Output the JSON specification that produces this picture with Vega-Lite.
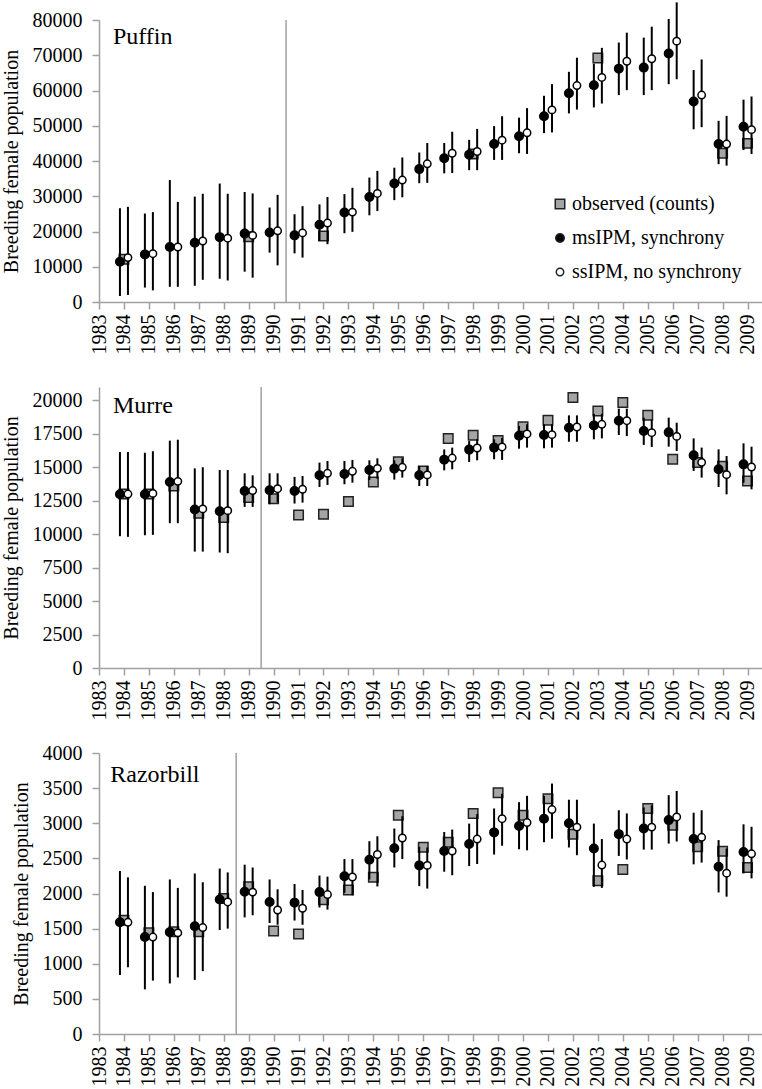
{
"$schema": "https://vega.github.io/schema/vega-lite/v6.json",
"padding": {"left": 1, "top": 1, "right": 0, "bottom": 0},
"background": "white",
"bounds": "flush",
"spacing": 85,
"config": {
  "view": {"stroke": null},
  "font": "Liberation Serif",
  "text": {"font": "Liberation Serif"},
  "axis": {"labelFont": "Liberation Serif", "labelFontSize": 20, "labelColor": "#000", "titleFont": "Liberation Serif", "titleFontSize": 20, "titleFontWeight": "normal", "titleColor": "#000", "domainColor": "#a0a0a0", "domainWidth": 1.5, "tickColor": "#a0a0a0", "tickWidth": 1.5, "tickSize": 7, "grid": false, "labelOverlap": false, "labelFlush": false},
  "legend": {"labelFont": "Liberation Serif", "labelFontSize": 20, "labelColor": "#000", "labelLimit": 400}
},
"datasets": {
"d": [
{"p":"P","yr":1984,"s":"ms","v":11400,"lo":1700,"hi":26600},
{"p":"P","yr":1985,"s":"ms","v":13500,"lo":4100,"hi":25100},
{"p":"P","yr":1986,"s":"ms","v":15600,"lo":4300,"hi":34600},
{"p":"P","yr":1987,"s":"ms","v":16800,"lo":4600,"hi":29900},
{"p":"P","yr":1988,"s":"ms","v":18400,"lo":6600,"hi":33600},
{"p":"P","yr":1989,"s":"ms","v":19400,"lo":8600,"hi":31200},
{"p":"P","yr":1990,"s":"ms","v":19700,"lo":14000,"hi":26800},
{"p":"P","yr":1991,"s":"ms","v":18900,"lo":13800,"hi":24900},
{"p":"P","yr":1992,"s":"ms","v":21900,"lo":17300,"hi":27700},
{"p":"P","yr":1993,"s":"ms","v":25400,"lo":19500,"hi":30600},
{"p":"P","yr":1994,"s":"ms","v":29800,"lo":24600,"hi":35300},
{"p":"P","yr":1995,"s":"ms","v":33600,"lo":28900,"hi":38100},
{"p":"P","yr":1996,"s":"ms","v":37700,"lo":33700,"hi":42400},
{"p":"P","yr":1997,"s":"ms","v":40800,"lo":36500,"hi":45100},
{"p":"P","yr":1998,"s":"ms","v":41800,"lo":37400,"hi":46000},
{"p":"P","yr":1999,"s":"ms","v":44800,"lo":40300,"hi":49900},
{"p":"P","yr":2000,"s":"ms","v":47000,"lo":42200,"hi":52300},
{"p":"P","yr":2001,"s":"ms","v":52700,"lo":47900,"hi":58500},
{"p":"P","yr":2002,"s":"ms","v":59200,"lo":53500,"hi":65300},
{"p":"P","yr":2003,"s":"ms","v":61500,"lo":55200,"hi":67600},
{"p":"P","yr":2004,"s":"ms","v":66200,"lo":58700,"hi":73600},
{"p":"P","yr":2005,"s":"ms","v":66500,"lo":58700,"hi":75000},
{"p":"P","yr":2006,"s":"ms","v":70500,"lo":61800,"hi":80300},
{"p":"P","yr":2007,"s":"ms","v":56900,"lo":49000,"hi":65800},
{"p":"P","yr":2008,"s":"ms","v":44800,"lo":39100,"hi":51400},
{"p":"P","yr":2009,"s":"ms","v":49700,"lo":43100,"hi":57400},
{"p":"P","yr":1984,"s":"ss","v":12600,"lo":2000,"hi":27000},
{"p":"P","yr":1985,"s":"ss","v":13700,"lo":3300,"hi":25500},
{"p":"P","yr":1986,"s":"ss","v":15600,"lo":4300,"hi":28400},
{"p":"P","yr":1987,"s":"ss","v":17300,"lo":6300,"hi":30700},
{"p":"P","yr":1988,"s":"ss","v":18100,"lo":6100,"hi":30700},
{"p":"P","yr":1989,"s":"ss","v":18900,"lo":6900,"hi":30800},
{"p":"P","yr":1990,"s":"ss","v":20200,"lo":10400,"hi":30400},
{"p":"P","yr":1991,"s":"ss","v":19600,"lo":12600,"hi":27200},
{"p":"P","yr":1992,"s":"ss","v":22400,"lo":16400,"hi":29800},
{"p":"P","yr":1993,"s":"ss","v":25500,"lo":19900,"hi":32400},
{"p":"P","yr":1994,"s":"ss","v":30800,"lo":25800,"hi":37200},
{"p":"P","yr":1995,"s":"ss","v":34600,"lo":29700,"hi":41000},
{"p":"P","yr":1996,"s":"ss","v":39200,"lo":33800,"hi":45100},
{"p":"P","yr":1997,"s":"ss","v":42200,"lo":36600,"hi":48300},
{"p":"P","yr":1998,"s":"ss","v":42700,"lo":37400,"hi":49100},
{"p":"P","yr":1999,"s":"ss","v":45900,"lo":40300,"hi":52700},
{"p":"P","yr":2000,"s":"ss","v":48000,"lo":42000,"hi":55000},
{"p":"P","yr":2001,"s":"ss","v":54500,"lo":48100,"hi":61800},
{"p":"P","yr":2002,"s":"ss","v":61400,"lo":54600,"hi":69300},
{"p":"P","yr":2003,"s":"ss","v":63700,"lo":56300,"hi":72100},
{"p":"P","yr":2004,"s":"ss","v":68300,"lo":60100,"hi":76400},
{"p":"P","yr":2005,"s":"ss","v":69000,"lo":60100,"hi":78100},
{"p":"P","yr":2006,"s":"ss","v":74000,"lo":63200,"hi":85000},
{"p":"P","yr":2007,"s":"ss","v":58700,"lo":49600,"hi":68800},
{"p":"P","yr":2008,"s":"ss","v":44800,"lo":38700,"hi":52800},
{"p":"P","yr":2009,"s":"ss","v":48900,"lo":42000,"hi":58300},
{"p":"P","yr":1984,"s":"obs","v":12100},
{"p":"P","yr":1989,"s":"obs","v":18500},
{"p":"P","yr":1992,"s":"obs","v":18700},
{"p":"P","yr":1998,"s":"obs","v":42000},
{"p":"P","yr":2003,"s":"obs","v":69200},
{"p":"P","yr":2008,"s":"obs","v":42200},
{"p":"P","yr":2009,"s":"obs","v":45000},
{"p":"M","yr":1984,"s":"ms","v":12980,"lo":9850,"hi":16140},
{"p":"M","yr":1985,"s":"ms","v":12980,"lo":9920,"hi":16090},
{"p":"M","yr":1986,"s":"ms","v":13900,"lo":10820,"hi":16990},
{"p":"M","yr":1987,"s":"ms","v":11840,"lo":8700,"hi":14920},
{"p":"M","yr":1988,"s":"ms","v":11710,"lo":8630,"hi":14800},
{"p":"M","yr":1989,"s":"ms","v":13230,"lo":12040,"hi":14550},
{"p":"M","yr":1990,"s":"ms","v":13280,"lo":12240,"hi":14550},
{"p":"M","yr":1991,"s":"ms","v":13230,"lo":12290,"hi":14280},
{"p":"M","yr":1992,"s":"ms","v":14400,"lo":13530,"hi":15350},
{"p":"M","yr":1993,"s":"ms","v":14500,"lo":13730,"hi":15470},
{"p":"M","yr":1994,"s":"ms","v":14800,"lo":14050,"hi":15520},
{"p":"M","yr":1995,"s":"ms","v":14900,"lo":14080,"hi":15520},
{"p":"M","yr":1996,"s":"ms","v":14400,"lo":13600,"hi":15100},
{"p":"M","yr":1997,"s":"ms","v":15570,"lo":14770,"hi":16340},
{"p":"M","yr":1998,"s":"ms","v":16320,"lo":15400,"hi":16960},
{"p":"M","yr":1999,"s":"ms","v":16470,"lo":15600,"hi":17090},
{"p":"M","yr":2000,"s":"ms","v":17360,"lo":16390,"hi":18080},
{"p":"M","yr":2001,"s":"ms","v":17410,"lo":16420,"hi":18210},
{"p":"M","yr":2002,"s":"ms","v":17960,"lo":16910,"hi":18880},
{"p":"M","yr":2003,"s":"ms","v":18130,"lo":17090,"hi":19000},
{"p":"M","yr":2004,"s":"ms","v":18480,"lo":17410,"hi":19380},
{"p":"M","yr":2005,"s":"ms","v":17710,"lo":16670,"hi":18710},
{"p":"M","yr":2006,"s":"ms","v":17610,"lo":16540,"hi":18710},
{"p":"M","yr":2007,"s":"ms","v":15890,"lo":14730,"hi":17160},
{"p":"M","yr":2008,"s":"ms","v":14850,"lo":13530,"hi":16340},
{"p":"M","yr":2009,"s":"ms","v":15220,"lo":13850,"hi":16790},
{"p":"M","yr":1984,"s":"ss","v":13000,"lo":9800,"hi":16140},
{"p":"M","yr":1985,"s":"ss","v":13050,"lo":9950,"hi":16200},
{"p":"M","yr":1986,"s":"ss","v":13950,"lo":10820,"hi":17060},
{"p":"M","yr":1987,"s":"ss","v":11890,"lo":8700,"hi":15000},
{"p":"M","yr":1988,"s":"ss","v":11760,"lo":8580,"hi":14800},
{"p":"M","yr":1989,"s":"ss","v":13260,"lo":12040,"hi":14400},
{"p":"M","yr":1990,"s":"ss","v":13400,"lo":12360,"hi":14550},
{"p":"M","yr":1991,"s":"ss","v":13360,"lo":12360,"hi":14350},
{"p":"M","yr":1992,"s":"ss","v":14550,"lo":13680,"hi":15470},
{"p":"M","yr":1993,"s":"ss","v":14700,"lo":13850,"hi":15550},
{"p":"M","yr":1994,"s":"ss","v":14920,"lo":14150,"hi":15670},
{"p":"M","yr":1995,"s":"ss","v":15000,"lo":14230,"hi":15670},
{"p":"M","yr":1996,"s":"ss","v":14430,"lo":13600,"hi":15100},
{"p":"M","yr":1997,"s":"ss","v":15690,"lo":14850,"hi":16470},
{"p":"M","yr":1998,"s":"ss","v":16440,"lo":15520,"hi":17090},
{"p":"M","yr":1999,"s":"ss","v":16520,"lo":15550,"hi":17200},
{"p":"M","yr":2000,"s":"ss","v":17490,"lo":16470,"hi":18210},
{"p":"M","yr":2001,"s":"ss","v":17440,"lo":16470,"hi":18210},
{"p":"M","yr":2002,"s":"ss","v":18010,"lo":16910,"hi":18880},
{"p":"M","yr":2003,"s":"ss","v":18210,"lo":17160,"hi":19000},
{"p":"M","yr":2004,"s":"ss","v":18480,"lo":17330,"hi":19380},
{"p":"M","yr":2005,"s":"ss","v":17590,"lo":16520,"hi":18580},
{"p":"M","yr":2006,"s":"ss","v":17310,"lo":16220,"hi":18330},
{"p":"M","yr":2007,"s":"ss","v":15370,"lo":14230,"hi":16470},
{"p":"M","yr":2008,"s":"ss","v":14450,"lo":12980,"hi":15840},
{"p":"M","yr":2009,"s":"ss","v":15020,"lo":13350,"hi":16540},
{"p":"M","yr":1984,"s":"obs","v":13000},
{"p":"M","yr":1985,"s":"obs","v":13000},
{"p":"M","yr":1986,"s":"obs","v":13600},
{"p":"M","yr":1987,"s":"obs","v":11560},
{"p":"M","yr":1988,"s":"obs","v":11240},
{"p":"M","yr":1989,"s":"obs","v":12740},
{"p":"M","yr":1990,"s":"obs","v":12640},
{"p":"M","yr":1991,"s":"obs","v":11440},
{"p":"M","yr":1992,"s":"obs","v":11490},
{"p":"M","yr":1993,"s":"obs","v":12440},
{"p":"M","yr":1994,"s":"obs","v":13900},
{"p":"M","yr":1995,"s":"obs","v":15420},
{"p":"M","yr":1996,"s":"obs","v":14730},
{"p":"M","yr":1997,"s":"obs","v":17160},
{"p":"M","yr":1998,"s":"obs","v":17390},
{"p":"M","yr":1999,"s":"obs","v":17010},
{"p":"M","yr":2000,"s":"obs","v":18030},
{"p":"M","yr":2001,"s":"obs","v":18510},
{"p":"M","yr":2002,"s":"obs","v":20220},
{"p":"M","yr":2003,"s":"obs","v":19200},
{"p":"M","yr":2004,"s":"obs","v":19850},
{"p":"M","yr":2005,"s":"obs","v":18880},
{"p":"M","yr":2006,"s":"obs","v":15600},
{"p":"M","yr":2007,"s":"obs","v":15350},
{"p":"M","yr":2008,"s":"obs","v":15070},
{"p":"M","yr":2009,"s":"obs","v":13980},
{"p":"R","yr":1984,"s":"ms","v":1590,"lo":840,"hi":2320},
{"p":"R","yr":1985,"s":"ms","v":1380,"lo":635,"hi":2110},
{"p":"R","yr":1986,"s":"ms","v":1450,"lo":720,"hi":2200},
{"p":"R","yr":1987,"s":"ms","v":1535,"lo":770,"hi":2285},
{"p":"R","yr":1988,"s":"ms","v":1915,"lo":1480,"hi":2355},
{"p":"R","yr":1989,"s":"ms","v":2025,"lo":1660,"hi":2410},
{"p":"R","yr":1990,"s":"ms","v":1880,"lo":1580,"hi":2200},
{"p":"R","yr":1991,"s":"ms","v":1870,"lo":1615,"hi":2135},
{"p":"R","yr":1992,"s":"ms","v":2020,"lo":1800,"hi":2255},
{"p":"R","yr":1993,"s":"ms","v":2245,"lo":2010,"hi":2490},
{"p":"R","yr":1994,"s":"ms","v":2480,"lo":2200,"hi":2745},
{"p":"R","yr":1995,"s":"ms","v":2645,"lo":2370,"hi":2925},
{"p":"R","yr":1996,"s":"ms","v":2400,"lo":2105,"hi":2665},
{"p":"R","yr":1997,"s":"ms","v":2605,"lo":2310,"hi":2875},
{"p":"R","yr":1998,"s":"ms","v":2705,"lo":2390,"hi":2995},
{"p":"R","yr":1999,"s":"ms","v":2870,"lo":2555,"hi":3210},
{"p":"R","yr":2000,"s":"ms","v":2960,"lo":2630,"hi":3300},
{"p":"R","yr":2001,"s":"ms","v":3065,"lo":2730,"hi":3390},
{"p":"R","yr":2002,"s":"ms","v":3000,"lo":2655,"hi":3335},
{"p":"R","yr":2003,"s":"ms","v":2640,"lo":2095,"hi":2995},
{"p":"R","yr":2004,"s":"ms","v":2845,"lo":2535,"hi":3185},
{"p":"R","yr":2005,"s":"ms","v":2925,"lo":2625,"hi":3225},
{"p":"R","yr":2006,"s":"ms","v":3045,"lo":2710,"hi":3400},
{"p":"R","yr":2007,"s":"ms","v":2775,"lo":2415,"hi":3150},
{"p":"R","yr":2008,"s":"ms","v":2380,"lo":2015,"hi":2760},
{"p":"R","yr":2009,"s":"ms","v":2590,"lo":2285,"hi":2985},
{"p":"R","yr":1984,"s":"ss","v":1590,"lo":950,"hi":2230},
{"p":"R","yr":1985,"s":"ss","v":1380,"lo":760,"hi":2020},
{"p":"R","yr":1986,"s":"ss","v":1440,"lo":805,"hi":2080},
{"p":"R","yr":1987,"s":"ss","v":1515,"lo":895,"hi":2160},
{"p":"R","yr":1988,"s":"ss","v":1880,"lo":1500,"hi":2300},
{"p":"R","yr":1989,"s":"ss","v":2020,"lo":1690,"hi":2370},
{"p":"R","yr":1990,"s":"ss","v":1765,"lo":1555,"hi":2060},
{"p":"R","yr":1991,"s":"ss","v":1790,"lo":1555,"hi":2050},
{"p":"R","yr":1992,"s":"ss","v":1985,"lo":1770,"hi":2240},
{"p":"R","yr":1993,"s":"ss","v":2235,"lo":1975,"hi":2490},
{"p":"R","yr":1994,"s":"ss","v":2555,"lo":2100,"hi":2815},
{"p":"R","yr":1995,"s":"ss","v":2790,"lo":2490,"hi":3100},
{"p":"R","yr":1996,"s":"ss","v":2400,"lo":2070,"hi":2655},
{"p":"R","yr":1997,"s":"ss","v":2605,"lo":2260,"hi":2910},
{"p":"R","yr":1998,"s":"ss","v":2775,"lo":2420,"hi":3130},
{"p":"R","yr":1999,"s":"ss","v":3065,"lo":2680,"hi":3420},
{"p":"R","yr":2000,"s":"ss","v":3010,"lo":2615,"hi":3390},
{"p":"R","yr":2001,"s":"ss","v":3195,"lo":2780,"hi":3565},
{"p":"R","yr":2002,"s":"ss","v":2945,"lo":2545,"hi":3335},
{"p":"R","yr":2003,"s":"ss","v":2405,"lo":2080,"hi":2775},
{"p":"R","yr":2004,"s":"ss","v":2775,"lo":2485,"hi":3140},
{"p":"R","yr":2005,"s":"ss","v":2945,"lo":2625,"hi":3255},
{"p":"R","yr":2006,"s":"ss","v":3090,"lo":2740,"hi":3460},
{"p":"R","yr":2007,"s":"ss","v":2800,"lo":2440,"hi":3185},
{"p":"R","yr":2008,"s":"ss","v":2290,"lo":1955,"hi":2640},
{"p":"R","yr":2009,"s":"ss","v":2565,"lo":2215,"hi":2950},
{"p":"R","yr":1984,"s":"obs","v":1620},
{"p":"R","yr":1985,"s":"obs","v":1440},
{"p":"R","yr":1986,"s":"obs","v":1455},
{"p":"R","yr":1987,"s":"obs","v":1455},
{"p":"R","yr":1988,"s":"obs","v":1930},
{"p":"R","yr":1989,"s":"obs","v":2095},
{"p":"R","yr":1990,"s":"obs","v":1465},
{"p":"R","yr":1991,"s":"obs","v":1425},
{"p":"R","yr":1992,"s":"obs","v":1910},
{"p":"R","yr":1993,"s":"obs","v":2050},
{"p":"R","yr":1994,"s":"obs","v":2230},
{"p":"R","yr":1995,"s":"obs","v":3115},
{"p":"R","yr":1996,"s":"obs","v":2660},
{"p":"R","yr":1997,"s":"obs","v":2730},
{"p":"R","yr":1998,"s":"obs","v":3140},
{"p":"R","yr":1999,"s":"obs","v":3435},
{"p":"R","yr":2000,"s":"obs","v":3115},
{"p":"R","yr":2001,"s":"obs","v":3350},
{"p":"R","yr":2002,"s":"obs","v":2845},
{"p":"R","yr":2003,"s":"obs","v":2180},
{"p":"R","yr":2004,"s":"obs","v":2340},
{"p":"R","yr":2005,"s":"obs","v":3210},
{"p":"R","yr":2006,"s":"obs","v":2970},
{"p":"R","yr":2007,"s":"obs","v":2665},
{"p":"R","yr":2008,"s":"obs","v":2600},
{"p":"R","yr":2009,"s":"obs","v":2370}
]
},
"resolve": {
  "scale": {"x": "independent", "y": "independent", "shape": "independent", "fill": "independent", "size": "independent"},
  "legend": {"shape": "independent", "fill": "independent", "size": "independent"}
},
"vconcat": [
{
  "width": 663, "height": 282,
  "data": {"name": "d"},
  "layer": [
    {"transform": [{"filter": "datum.p == 'P' && datum.s == 'obs'"}], "mark": {"type": "point", "filled": true, "stroke": "#222", "strokeWidth": 1.5, "opacity": 1},
     "encoding": {
       "x": {"field": "yr", "type": "quantitative", "scale": {"domain": [1983, 2009.58], "nice": false, "zero": false},
             "axis": {"values": [1983,1984,1985,1986,1987,1988,1989,1990,1991,1992,1993,1994,1995,1996,1997,1998,1999,2000,2001,2002,2003,2004,2005,2006,2007,2008,2009], "format": "d", "labelAngle": 270, "title": null, "labelFont": "Liberation Serif", "labelFontSize": 20, "labelColor": "#000", "labelOverlap": false, "labelFlush": false, "labelPadding": 5, "tickSize": 7, "tickColor": "#a0a0a0", "tickWidth": 1.5, "domainColor": "#a0a0a0", "domainWidth": 1.5, "grid": false}},
       "y": {"field": "v", "type": "quantitative", "scale": {"domain": [0, 80000], "nice": false},
             "axis": {"values": [0,10000,20000,30000,40000,50000,60000,70000,80000], "format": "d", "title": "Breeding female population", "titleFont": "Liberation Serif", "titleFontSize": 20, "titleFontWeight": "normal", "titleColor": "#000", "titlePadding": 11, "labelFont": "Liberation Serif", "labelFontSize": 20, "labelColor": "#000", "labelOverlap": false, "labelPadding": 10, "tickSize": 7, "tickColor": "#a0a0a0", "tickWidth": 1.5, "domainColor": "#a0a0a0", "domainWidth": 1.5, "grid": false}},
       "shape": {"field": "s", "type": "nominal", "scale": {"domain": ["obs","ms","ss"], "range": ["square","circle","circle"]}, "legend": {"orient": "none", "legendX": 451, "legendY": 174, "title": null, "padding": 0, "rowPadding": 14, "labelOffset": 2, "labelLimit": 400, "labelFont": "Liberation Serif", "labelFontSize": 20, "labelColor": "#000", "labelExpr": "datum.label == 'obs' ? 'observed (counts)' : datum.label == 'ms' ? 'msIPM, synchrony' : 'ssIPM, no synchrony'", "encode": {"symbols": {"update": {"stroke": {"value": "#000"}, "strokeWidth": {"value": 1.2}}}}}},
       "fill": {"field": "s", "type": "nominal", "scale": {"domain": ["obs","ms","ss"], "range": ["#a5a5a5","#000000","#ffffff"]}, "legend": {"orient": "none", "legendX": 451, "legendY": 174, "title": null, "padding": 0, "rowPadding": 14, "labelOffset": 2, "labelLimit": 400, "labelFont": "Liberation Serif", "labelFontSize": 20, "labelColor": "#000", "labelExpr": "datum.label == 'obs' ? 'observed (counts)' : datum.label == 'ms' ? 'msIPM, synchrony' : 'ssIPM, no synchrony'", "encode": {"symbols": {"update": {"stroke": {"value": "#000"}, "strokeWidth": {"value": 1.2}}}}}},
       "size": {"field": "s", "type": "nominal", "scale": {"domain": ["obs","ms","ss"], "range": [90, 55, 55]}, "legend": {"orient": "none", "legendX": 451, "legendY": 174, "title": null, "padding": 0, "rowPadding": 14, "labelOffset": 2, "labelLimit": 400, "labelFont": "Liberation Serif", "labelFontSize": 20, "labelColor": "#000", "labelExpr": "datum.label == 'obs' ? 'observed (counts)' : datum.label == 'ms' ? 'msIPM, synchrony' : 'ssIPM, no synchrony'", "encode": {"symbols": {"update": {"stroke": {"value": "#000"}, "strokeWidth": {"value": 1.2}}}}}}
     }},
    {"transform": [{"filter": "datum.p == 'P' && datum.s == 'obs' && datum.yr == 1984"}], "mark": {"type": "rule", "color": "#a0a0a0", "strokeWidth": 1.5},
     "encoding": {
       "x": {"datum": 1990.5, "type": "quantitative", "axis": {"values": [1983,1984,1985,1986,1987,1988,1989,1990,1991,1992,1993,1994,1995,1996,1997,1998,1999,2000,2001,2002,2003,2004,2005,2006,2007,2008,2009], "format": "d", "labelAngle": 270, "title": null, "labelFont": "Liberation Serif", "labelFontSize": 20, "labelColor": "#000", "labelOverlap": false, "labelFlush": false, "labelPadding": 5, "tickSize": 7, "tickColor": "#a0a0a0", "tickWidth": 1.5, "domainColor": "#a0a0a0", "domainWidth": 1.5, "grid": false}},
       "y": {"datum": 0, "type": "quantitative", "axis": {"values": [0,10000,20000,30000,40000,50000,60000,70000,80000], "format": "d", "title": "Breeding female population", "titleFont": "Liberation Serif", "titleFontSize": 20, "titleFontWeight": "normal", "titleColor": "#000", "titlePadding": 11, "labelFont": "Liberation Serif", "labelFontSize": 20, "labelColor": "#000", "labelOverlap": false, "labelPadding": 10, "tickSize": 7, "tickColor": "#a0a0a0", "tickWidth": 1.5, "domainColor": "#a0a0a0", "domainWidth": 1.5, "grid": false}},
       "y2": {"datum": 80000}}},
    {"transform": [{"filter": "datum.p == 'P' && datum.s == 'ms'"}], "mark": {"type": "rule", "color": "#000", "strokeWidth": 2, "xOffset": -4},
     "encoding": {
       "x": {"field": "yr", "type": "quantitative", "axis": {"values": [1983,1984,1985,1986,1987,1988,1989,1990,1991,1992,1993,1994,1995,1996,1997,1998,1999,2000,2001,2002,2003,2004,2005,2006,2007,2008,2009], "format": "d", "labelAngle": 270, "title": null, "labelFont": "Liberation Serif", "labelFontSize": 20, "labelColor": "#000", "labelOverlap": false, "labelFlush": false, "labelPadding": 5, "tickSize": 7, "tickColor": "#a0a0a0", "tickWidth": 1.5, "domainColor": "#a0a0a0", "domainWidth": 1.5, "grid": false}},
       "y": {"field": "lo", "type": "quantitative", "axis": {"values": [0,10000,20000,30000,40000,50000,60000,70000,80000], "format": "d", "title": "Breeding female population", "titleFont": "Liberation Serif", "titleFontSize": 20, "titleFontWeight": "normal", "titleColor": "#000", "titlePadding": 11, "labelFont": "Liberation Serif", "labelFontSize": 20, "labelColor": "#000", "labelOverlap": false, "labelPadding": 10, "tickSize": 7, "tickColor": "#a0a0a0", "tickWidth": 1.5, "domainColor": "#a0a0a0", "domainWidth": 1.5, "grid": false}},
       "y2": {"field": "hi"}}},
    {"transform": [{"filter": "datum.p == 'P' && datum.s == 'ms'"}], "mark": {"type": "point", "filled": true, "stroke": "#000", "strokeWidth": 1.5, "opacity": 1, "xOffset": -4},
     "encoding": {
       "x": {"field": "yr", "type": "quantitative", "axis": {"values": [1983,1984,1985,1986,1987,1988,1989,1990,1991,1992,1993,1994,1995,1996,1997,1998,1999,2000,2001,2002,2003,2004,2005,2006,2007,2008,2009], "format": "d", "labelAngle": 270, "title": null, "labelFont": "Liberation Serif", "labelFontSize": 20, "labelColor": "#000", "labelOverlap": false, "labelFlush": false, "labelPadding": 5, "tickSize": 7, "tickColor": "#a0a0a0", "tickWidth": 1.5, "domainColor": "#a0a0a0", "domainWidth": 1.5, "grid": false}},
       "y": {"field": "v", "type": "quantitative", "axis": {"values": [0,10000,20000,30000,40000,50000,60000,70000,80000], "format": "d", "title": "Breeding female population", "titleFont": "Liberation Serif", "titleFontSize": 20, "titleFontWeight": "normal", "titleColor": "#000", "titlePadding": 11, "labelFont": "Liberation Serif", "labelFontSize": 20, "labelColor": "#000", "labelOverlap": false, "labelPadding": 10, "tickSize": 7, "tickColor": "#a0a0a0", "tickWidth": 1.5, "domainColor": "#a0a0a0", "domainWidth": 1.5, "grid": false}},
       "shape": {"field": "s", "type": "nominal"}, "fill": {"field": "s", "type": "nominal"}, "size": {"field": "s", "type": "nominal"}}},
    {"transform": [{"filter": "datum.p == 'P' && datum.s == 'ss'"}], "mark": {"type": "rule", "color": "#000", "strokeWidth": 2, "xOffset": 4},
     "encoding": {
       "x": {"field": "yr", "type": "quantitative", "axis": {"values": [1983,1984,1985,1986,1987,1988,1989,1990,1991,1992,1993,1994,1995,1996,1997,1998,1999,2000,2001,2002,2003,2004,2005,2006,2007,2008,2009], "format": "d", "labelAngle": 270, "title": null, "labelFont": "Liberation Serif", "labelFontSize": 20, "labelColor": "#000", "labelOverlap": false, "labelFlush": false, "labelPadding": 5, "tickSize": 7, "tickColor": "#a0a0a0", "tickWidth": 1.5, "domainColor": "#a0a0a0", "domainWidth": 1.5, "grid": false}},
       "y": {"field": "lo", "type": "quantitative", "axis": {"values": [0,10000,20000,30000,40000,50000,60000,70000,80000], "format": "d", "title": "Breeding female population", "titleFont": "Liberation Serif", "titleFontSize": 20, "titleFontWeight": "normal", "titleColor": "#000", "titlePadding": 11, "labelFont": "Liberation Serif", "labelFontSize": 20, "labelColor": "#000", "labelOverlap": false, "labelPadding": 10, "tickSize": 7, "tickColor": "#a0a0a0", "tickWidth": 1.5, "domainColor": "#a0a0a0", "domainWidth": 1.5, "grid": false}},
       "y2": {"field": "hi"}}},
    {"transform": [{"filter": "datum.p == 'P' && datum.s == 'ss'"}], "mark": {"type": "point", "filled": true, "stroke": "#000", "strokeWidth": 1.5, "opacity": 1, "xOffset": 4},
     "encoding": {
       "x": {"field": "yr", "type": "quantitative", "axis": {"values": [1983,1984,1985,1986,1987,1988,1989,1990,1991,1992,1993,1994,1995,1996,1997,1998,1999,2000,2001,2002,2003,2004,2005,2006,2007,2008,2009], "format": "d", "labelAngle": 270, "title": null, "labelFont": "Liberation Serif", "labelFontSize": 20, "labelColor": "#000", "labelOverlap": false, "labelFlush": false, "labelPadding": 5, "tickSize": 7, "tickColor": "#a0a0a0", "tickWidth": 1.5, "domainColor": "#a0a0a0", "domainWidth": 1.5, "grid": false}},
       "y": {"field": "v", "type": "quantitative", "axis": {"values": [0,10000,20000,30000,40000,50000,60000,70000,80000], "format": "d", "title": "Breeding female population", "titleFont": "Liberation Serif", "titleFontSize": 20, "titleFontWeight": "normal", "titleColor": "#000", "titlePadding": 11, "labelFont": "Liberation Serif", "labelFontSize": 20, "labelColor": "#000", "labelOverlap": false, "labelPadding": 10, "tickSize": 7, "tickColor": "#a0a0a0", "tickWidth": 1.5, "domainColor": "#a0a0a0", "domainWidth": 1.5, "grid": false}},
       "shape": {"field": "s", "type": "nominal"}, "fill": {"field": "s", "type": "nominal"}, "size": {"field": "s", "type": "nominal"}}},
    {"transform": [{"filter": "datum.p == 'P' && datum.s == 'obs' && datum.yr == 1984"}], "mark": {"type": "text", "text": "Puffin", "font": "Liberation Serif", "fontSize": 24, "align": "left", "baseline": "alphabetic", "color": "#000"},
     "encoding": {
       "x": {"datum": 1983.56, "type": "quantitative", "axis": {"values": [1983,1984,1985,1986,1987,1988,1989,1990,1991,1992,1993,1994,1995,1996,1997,1998,1999,2000,2001,2002,2003,2004,2005,2006,2007,2008,2009], "format": "d", "labelAngle": 270, "title": null, "labelFont": "Liberation Serif", "labelFontSize": 20, "labelColor": "#000", "labelOverlap": false, "labelFlush": false, "labelPadding": 5, "tickSize": 7, "tickColor": "#a0a0a0", "tickWidth": 1.5, "domainColor": "#a0a0a0", "domainWidth": 1.5, "grid": false}},
       "y": {"datum": 73200, "type": "quantitative", "axis": {"values": [0,10000,20000,30000,40000,50000,60000,70000,80000], "format": "d", "title": "Breeding female population", "titleFont": "Liberation Serif", "titleFontSize": 20, "titleFontWeight": "normal", "titleColor": "#000", "titlePadding": 11, "labelFont": "Liberation Serif", "labelFontSize": 20, "labelColor": "#000", "labelOverlap": false, "labelPadding": 10, "tickSize": 7, "tickColor": "#a0a0a0", "tickWidth": 1.5, "domainColor": "#a0a0a0", "domainWidth": 1.5, "grid": false}}}}
  ]
},
{
  "width": 663, "height": 281,
  "data": {"name": "d"},
  "layer": [
    {"transform": [{"filter": "datum.p == 'M' && datum.s == 'obs'"}], "mark": {"type": "point", "filled": true, "stroke": "#222", "strokeWidth": 1.5, "opacity": 1},
     "encoding": {
       "x": {"field": "yr", "type": "quantitative", "scale": {"domain": [1983, 2009.58], "nice": false, "zero": false},
             "axis": {"values": [1983,1984,1985,1986,1987,1988,1989,1990,1991,1992,1993,1994,1995,1996,1997,1998,1999,2000,2001,2002,2003,2004,2005,2006,2007,2008,2009], "format": "d", "labelAngle": 270, "title": null, "labelFont": "Liberation Serif", "labelFontSize": 20, "labelColor": "#000", "labelOverlap": false, "labelFlush": false, "labelPadding": 5, "tickSize": 7, "tickColor": "#a0a0a0", "tickWidth": 1.5, "domainColor": "#a0a0a0", "domainWidth": 1.5, "grid": false}},
       "y": {"field": "v", "type": "quantitative", "scale": {"domain": [0, 21000], "nice": false},
             "axis": {"values": [0,2500,5000,7500,10000,12500,15000,17500,20000], "format": "d", "title": "Breeding female population", "titleFont": "Liberation Serif", "titleFontSize": 20, "titleFontWeight": "normal", "titleColor": "#000", "titlePadding": 11, "labelFont": "Liberation Serif", "labelFontSize": 20, "labelColor": "#000", "labelOverlap": false, "labelPadding": 10, "tickSize": 7, "tickColor": "#a0a0a0", "tickWidth": 1.5, "domainColor": "#a0a0a0", "domainWidth": 1.5, "grid": false}},
       "shape": {"field": "s", "type": "nominal", "scale": {"domain": ["obs","ms","ss"], "range": ["square","circle","circle"]}, "legend": null},
       "fill": {"field": "s", "type": "nominal", "scale": {"domain": ["obs","ms","ss"], "range": ["#a5a5a5","#000000","#ffffff"]}, "legend": null},
       "size": {"field": "s", "type": "nominal", "scale": {"domain": ["obs","ms","ss"], "range": [90, 55, 55]}, "legend": null}
     }},
    {"transform": [{"filter": "datum.p == 'M' && datum.s == 'obs' && datum.yr == 1984"}], "mark": {"type": "rule", "color": "#a0a0a0", "strokeWidth": 1.5},
     "encoding": {
       "x": {"datum": 1989.5, "type": "quantitative", "axis": {"values": [1983,1984,1985,1986,1987,1988,1989,1990,1991,1992,1993,1994,1995,1996,1997,1998,1999,2000,2001,2002,2003,2004,2005,2006,2007,2008,2009], "format": "d", "labelAngle": 270, "title": null, "labelFont": "Liberation Serif", "labelFontSize": 20, "labelColor": "#000", "labelOverlap": false, "labelFlush": false, "labelPadding": 5, "tickSize": 7, "tickColor": "#a0a0a0", "tickWidth": 1.5, "domainColor": "#a0a0a0", "domainWidth": 1.5, "grid": false}},
       "y": {"datum": 0, "type": "quantitative", "axis": {"values": [0,2500,5000,7500,10000,12500,15000,17500,20000], "format": "d", "title": "Breeding female population", "titleFont": "Liberation Serif", "titleFontSize": 20, "titleFontWeight": "normal", "titleColor": "#000", "titlePadding": 11, "labelFont": "Liberation Serif", "labelFontSize": 20, "labelColor": "#000", "labelOverlap": false, "labelPadding": 10, "tickSize": 7, "tickColor": "#a0a0a0", "tickWidth": 1.5, "domainColor": "#a0a0a0", "domainWidth": 1.5, "grid": false}},
       "y2": {"datum": 21000}}},
    {"transform": [{"filter": "datum.p == 'M' && datum.s == 'ms'"}], "mark": {"type": "rule", "color": "#000", "strokeWidth": 2, "xOffset": -4},
     "encoding": {
       "x": {"field": "yr", "type": "quantitative", "axis": {"values": [1983,1984,1985,1986,1987,1988,1989,1990,1991,1992,1993,1994,1995,1996,1997,1998,1999,2000,2001,2002,2003,2004,2005,2006,2007,2008,2009], "format": "d", "labelAngle": 270, "title": null, "labelFont": "Liberation Serif", "labelFontSize": 20, "labelColor": "#000", "labelOverlap": false, "labelFlush": false, "labelPadding": 5, "tickSize": 7, "tickColor": "#a0a0a0", "tickWidth": 1.5, "domainColor": "#a0a0a0", "domainWidth": 1.5, "grid": false}},
       "y": {"field": "lo", "type": "quantitative", "axis": {"values": [0,2500,5000,7500,10000,12500,15000,17500,20000], "format": "d", "title": "Breeding female population", "titleFont": "Liberation Serif", "titleFontSize": 20, "titleFontWeight": "normal", "titleColor": "#000", "titlePadding": 11, "labelFont": "Liberation Serif", "labelFontSize": 20, "labelColor": "#000", "labelOverlap": false, "labelPadding": 10, "tickSize": 7, "tickColor": "#a0a0a0", "tickWidth": 1.5, "domainColor": "#a0a0a0", "domainWidth": 1.5, "grid": false}},
       "y2": {"field": "hi"}}},
    {"transform": [{"filter": "datum.p == 'M' && datum.s == 'ms'"}], "mark": {"type": "point", "filled": true, "stroke": "#000", "strokeWidth": 1.5, "opacity": 1, "xOffset": -4},
     "encoding": {
       "x": {"field": "yr", "type": "quantitative", "axis": {"values": [1983,1984,1985,1986,1987,1988,1989,1990,1991,1992,1993,1994,1995,1996,1997,1998,1999,2000,2001,2002,2003,2004,2005,2006,2007,2008,2009], "format": "d", "labelAngle": 270, "title": null, "labelFont": "Liberation Serif", "labelFontSize": 20, "labelColor": "#000", "labelOverlap": false, "labelFlush": false, "labelPadding": 5, "tickSize": 7, "tickColor": "#a0a0a0", "tickWidth": 1.5, "domainColor": "#a0a0a0", "domainWidth": 1.5, "grid": false}},
       "y": {"field": "v", "type": "quantitative", "axis": {"values": [0,2500,5000,7500,10000,12500,15000,17500,20000], "format": "d", "title": "Breeding female population", "titleFont": "Liberation Serif", "titleFontSize": 20, "titleFontWeight": "normal", "titleColor": "#000", "titlePadding": 11, "labelFont": "Liberation Serif", "labelFontSize": 20, "labelColor": "#000", "labelOverlap": false, "labelPadding": 10, "tickSize": 7, "tickColor": "#a0a0a0", "tickWidth": 1.5, "domainColor": "#a0a0a0", "domainWidth": 1.5, "grid": false}},
       "shape": {"field": "s", "type": "nominal", "legend": null}, "fill": {"field": "s", "type": "nominal", "legend": null}, "size": {"field": "s", "type": "nominal", "legend": null}}},
    {"transform": [{"filter": "datum.p == 'M' && datum.s == 'ss'"}], "mark": {"type": "rule", "color": "#000", "strokeWidth": 2, "xOffset": 4},
     "encoding": {
       "x": {"field": "yr", "type": "quantitative", "axis": {"values": [1983,1984,1985,1986,1987,1988,1989,1990,1991,1992,1993,1994,1995,1996,1997,1998,1999,2000,2001,2002,2003,2004,2005,2006,2007,2008,2009], "format": "d", "labelAngle": 270, "title": null, "labelFont": "Liberation Serif", "labelFontSize": 20, "labelColor": "#000", "labelOverlap": false, "labelFlush": false, "labelPadding": 5, "tickSize": 7, "tickColor": "#a0a0a0", "tickWidth": 1.5, "domainColor": "#a0a0a0", "domainWidth": 1.5, "grid": false}},
       "y": {"field": "lo", "type": "quantitative", "axis": {"values": [0,2500,5000,7500,10000,12500,15000,17500,20000], "format": "d", "title": "Breeding female population", "titleFont": "Liberation Serif", "titleFontSize": 20, "titleFontWeight": "normal", "titleColor": "#000", "titlePadding": 11, "labelFont": "Liberation Serif", "labelFontSize": 20, "labelColor": "#000", "labelOverlap": false, "labelPadding": 10, "tickSize": 7, "tickColor": "#a0a0a0", "tickWidth": 1.5, "domainColor": "#a0a0a0", "domainWidth": 1.5, "grid": false}},
       "y2": {"field": "hi"}}},
    {"transform": [{"filter": "datum.p == 'M' && datum.s == 'ss'"}], "mark": {"type": "point", "filled": true, "stroke": "#000", "strokeWidth": 1.5, "opacity": 1, "xOffset": 4},
     "encoding": {
       "x": {"field": "yr", "type": "quantitative", "axis": {"values": [1983,1984,1985,1986,1987,1988,1989,1990,1991,1992,1993,1994,1995,1996,1997,1998,1999,2000,2001,2002,2003,2004,2005,2006,2007,2008,2009], "format": "d", "labelAngle": 270, "title": null, "labelFont": "Liberation Serif", "labelFontSize": 20, "labelColor": "#000", "labelOverlap": false, "labelFlush": false, "labelPadding": 5, "tickSize": 7, "tickColor": "#a0a0a0", "tickWidth": 1.5, "domainColor": "#a0a0a0", "domainWidth": 1.5, "grid": false}},
       "y": {"field": "v", "type": "quantitative", "axis": {"values": [0,2500,5000,7500,10000,12500,15000,17500,20000], "format": "d", "title": "Breeding female population", "titleFont": "Liberation Serif", "titleFontSize": 20, "titleFontWeight": "normal", "titleColor": "#000", "titlePadding": 11, "labelFont": "Liberation Serif", "labelFontSize": 20, "labelColor": "#000", "labelOverlap": false, "labelPadding": 10, "tickSize": 7, "tickColor": "#a0a0a0", "tickWidth": 1.5, "domainColor": "#a0a0a0", "domainWidth": 1.5, "grid": false}},
       "shape": {"field": "s", "type": "nominal", "legend": null}, "fill": {"field": "s", "type": "nominal", "legend": null}, "size": {"field": "s", "type": "nominal", "legend": null}}},
    {"transform": [{"filter": "datum.p == 'M' && datum.s == 'obs' && datum.yr == 1984"}], "mark": {"type": "text", "text": "Murre", "font": "Liberation Serif", "fontSize": 24, "align": "left", "baseline": "alphabetic", "color": "#000"},
     "encoding": {
       "x": {"datum": 1983.56, "type": "quantitative", "axis": {"values": [1983,1984,1985,1986,1987,1988,1989,1990,1991,1992,1993,1994,1995,1996,1997,1998,1999,2000,2001,2002,2003,2004,2005,2006,2007,2008,2009], "format": "d", "labelAngle": 270, "title": null, "labelFont": "Liberation Serif", "labelFontSize": 20, "labelColor": "#000", "labelOverlap": false, "labelFlush": false, "labelPadding": 5, "tickSize": 7, "tickColor": "#a0a0a0", "tickWidth": 1.5, "domainColor": "#a0a0a0", "domainWidth": 1.5, "grid": false}},
       "y": {"datum": 19075, "type": "quantitative", "axis": {"values": [0,2500,5000,7500,10000,12500,15000,17500,20000], "format": "d", "title": "Breeding female population", "titleFont": "Liberation Serif", "titleFontSize": 20, "titleFontWeight": "normal", "titleColor": "#000", "titlePadding": 11, "labelFont": "Liberation Serif", "labelFontSize": 20, "labelColor": "#000", "labelOverlap": false, "labelPadding": 10, "tickSize": 7, "tickColor": "#a0a0a0", "tickWidth": 1.5, "domainColor": "#a0a0a0", "domainWidth": 1.5, "grid": false}}}}
  ]
},
{
  "width": 663, "height": 281,
  "data": {"name": "d"},
  "layer": [
    {"transform": [{"filter": "datum.p == 'R' && datum.s == 'obs'"}], "mark": {"type": "point", "filled": true, "stroke": "#222", "strokeWidth": 1.5, "opacity": 1},
     "encoding": {
       "x": {"field": "yr", "type": "quantitative", "scale": {"domain": [1983, 2009.58], "nice": false, "zero": false},
             "axis": {"values": [1983,1984,1985,1986,1987,1988,1989,1990,1991,1992,1993,1994,1995,1996,1997,1998,1999,2000,2001,2002,2003,2004,2005,2006,2007,2008,2009], "format": "d", "labelAngle": 270, "title": null, "labelFont": "Liberation Serif", "labelFontSize": 20, "labelColor": "#000", "labelOverlap": false, "labelFlush": false, "labelPadding": 5, "tickSize": 7, "tickColor": "#a0a0a0", "tickWidth": 1.5, "domainColor": "#a0a0a0", "domainWidth": 1.5, "grid": false}},
       "y": {"field": "v", "type": "quantitative", "scale": {"domain": [0, 4000], "nice": false},
             "axis": {"values": [0,500,1000,1500,2000,2500,3000,3500,4000], "format": "d", "title": "Breeding female population", "titleFont": "Liberation Serif", "titleFontSize": 20, "titleFontWeight": "normal", "titleColor": "#000", "titlePadding": 11, "labelFont": "Liberation Serif", "labelFontSize": 20, "labelColor": "#000", "labelOverlap": false, "labelPadding": 10, "tickSize": 7, "tickColor": "#a0a0a0", "tickWidth": 1.5, "domainColor": "#a0a0a0", "domainWidth": 1.5, "grid": false}},
       "shape": {"field": "s", "type": "nominal", "scale": {"domain": ["obs","ms","ss"], "range": ["square","circle","circle"]}, "legend": null},
       "fill": {"field": "s", "type": "nominal", "scale": {"domain": ["obs","ms","ss"], "range": ["#a5a5a5","#000000","#ffffff"]}, "legend": null},
       "size": {"field": "s", "type": "nominal", "scale": {"domain": ["obs","ms","ss"], "range": [90, 55, 55]}, "legend": null}
     }},
    {"transform": [{"filter": "datum.p == 'R' && datum.s == 'obs' && datum.yr == 1984"}], "mark": {"type": "rule", "color": "#a0a0a0", "strokeWidth": 1.5},
     "encoding": {
       "x": {"datum": 1988.5, "type": "quantitative", "axis": {"values": [1983,1984,1985,1986,1987,1988,1989,1990,1991,1992,1993,1994,1995,1996,1997,1998,1999,2000,2001,2002,2003,2004,2005,2006,2007,2008,2009], "format": "d", "labelAngle": 270, "title": null, "labelFont": "Liberation Serif", "labelFontSize": 20, "labelColor": "#000", "labelOverlap": false, "labelFlush": false, "labelPadding": 5, "tickSize": 7, "tickColor": "#a0a0a0", "tickWidth": 1.5, "domainColor": "#a0a0a0", "domainWidth": 1.5, "grid": false}},
       "y": {"datum": 0, "type": "quantitative", "axis": {"values": [0,500,1000,1500,2000,2500,3000,3500,4000], "format": "d", "title": "Breeding female population", "titleFont": "Liberation Serif", "titleFontSize": 20, "titleFontWeight": "normal", "titleColor": "#000", "titlePadding": 11, "labelFont": "Liberation Serif", "labelFontSize": 20, "labelColor": "#000", "labelOverlap": false, "labelPadding": 10, "tickSize": 7, "tickColor": "#a0a0a0", "tickWidth": 1.5, "domainColor": "#a0a0a0", "domainWidth": 1.5, "grid": false}},
       "y2": {"datum": 4000}}},
    {"transform": [{"filter": "datum.p == 'R' && datum.s == 'ms'"}], "mark": {"type": "rule", "color": "#000", "strokeWidth": 2, "xOffset": -4},
     "encoding": {
       "x": {"field": "yr", "type": "quantitative", "axis": {"values": [1983,1984,1985,1986,1987,1988,1989,1990,1991,1992,1993,1994,1995,1996,1997,1998,1999,2000,2001,2002,2003,2004,2005,2006,2007,2008,2009], "format": "d", "labelAngle": 270, "title": null, "labelFont": "Liberation Serif", "labelFontSize": 20, "labelColor": "#000", "labelOverlap": false, "labelFlush": false, "labelPadding": 5, "tickSize": 7, "tickColor": "#a0a0a0", "tickWidth": 1.5, "domainColor": "#a0a0a0", "domainWidth": 1.5, "grid": false}},
       "y": {"field": "lo", "type": "quantitative", "axis": {"values": [0,500,1000,1500,2000,2500,3000,3500,4000], "format": "d", "title": "Breeding female population", "titleFont": "Liberation Serif", "titleFontSize": 20, "titleFontWeight": "normal", "titleColor": "#000", "titlePadding": 11, "labelFont": "Liberation Serif", "labelFontSize": 20, "labelColor": "#000", "labelOverlap": false, "labelPadding": 10, "tickSize": 7, "tickColor": "#a0a0a0", "tickWidth": 1.5, "domainColor": "#a0a0a0", "domainWidth": 1.5, "grid": false}},
       "y2": {"field": "hi"}}},
    {"transform": [{"filter": "datum.p == 'R' && datum.s == 'ms'"}], "mark": {"type": "point", "filled": true, "stroke": "#000", "strokeWidth": 1.5, "opacity": 1, "xOffset": -4},
     "encoding": {
       "x": {"field": "yr", "type": "quantitative", "axis": {"values": [1983,1984,1985,1986,1987,1988,1989,1990,1991,1992,1993,1994,1995,1996,1997,1998,1999,2000,2001,2002,2003,2004,2005,2006,2007,2008,2009], "format": "d", "labelAngle": 270, "title": null, "labelFont": "Liberation Serif", "labelFontSize": 20, "labelColor": "#000", "labelOverlap": false, "labelFlush": false, "labelPadding": 5, "tickSize": 7, "tickColor": "#a0a0a0", "tickWidth": 1.5, "domainColor": "#a0a0a0", "domainWidth": 1.5, "grid": false}},
       "y": {"field": "v", "type": "quantitative", "axis": {"values": [0,500,1000,1500,2000,2500,3000,3500,4000], "format": "d", "title": "Breeding female population", "titleFont": "Liberation Serif", "titleFontSize": 20, "titleFontWeight": "normal", "titleColor": "#000", "titlePadding": 11, "labelFont": "Liberation Serif", "labelFontSize": 20, "labelColor": "#000", "labelOverlap": false, "labelPadding": 10, "tickSize": 7, "tickColor": "#a0a0a0", "tickWidth": 1.5, "domainColor": "#a0a0a0", "domainWidth": 1.5, "grid": false}},
       "shape": {"field": "s", "type": "nominal", "legend": null}, "fill": {"field": "s", "type": "nominal", "legend": null}, "size": {"field": "s", "type": "nominal", "legend": null}}},
    {"transform": [{"filter": "datum.p == 'R' && datum.s == 'ss'"}], "mark": {"type": "rule", "color": "#000", "strokeWidth": 2, "xOffset": 4},
     "encoding": {
       "x": {"field": "yr", "type": "quantitative", "axis": {"values": [1983,1984,1985,1986,1987,1988,1989,1990,1991,1992,1993,1994,1995,1996,1997,1998,1999,2000,2001,2002,2003,2004,2005,2006,2007,2008,2009], "format": "d", "labelAngle": 270, "title": null, "labelFont": "Liberation Serif", "labelFontSize": 20, "labelColor": "#000", "labelOverlap": false, "labelFlush": false, "labelPadding": 5, "tickSize": 7, "tickColor": "#a0a0a0", "tickWidth": 1.5, "domainColor": "#a0a0a0", "domainWidth": 1.5, "grid": false}},
       "y": {"field": "lo", "type": "quantitative", "axis": {"values": [0,500,1000,1500,2000,2500,3000,3500,4000], "format": "d", "title": "Breeding female population", "titleFont": "Liberation Serif", "titleFontSize": 20, "titleFontWeight": "normal", "titleColor": "#000", "titlePadding": 11, "labelFont": "Liberation Serif", "labelFontSize": 20, "labelColor": "#000", "labelOverlap": false, "labelPadding": 10, "tickSize": 7, "tickColor": "#a0a0a0", "tickWidth": 1.5, "domainColor": "#a0a0a0", "domainWidth": 1.5, "grid": false}},
       "y2": {"field": "hi"}}},
    {"transform": [{"filter": "datum.p == 'R' && datum.s == 'ss'"}], "mark": {"type": "point", "filled": true, "stroke": "#000", "strokeWidth": 1.5, "opacity": 1, "xOffset": 4},
     "encoding": {
       "x": {"field": "yr", "type": "quantitative", "axis": {"values": [1983,1984,1985,1986,1987,1988,1989,1990,1991,1992,1993,1994,1995,1996,1997,1998,1999,2000,2001,2002,2003,2004,2005,2006,2007,2008,2009], "format": "d", "labelAngle": 270, "title": null, "labelFont": "Liberation Serif", "labelFontSize": 20, "labelColor": "#000", "labelOverlap": false, "labelFlush": false, "labelPadding": 5, "tickSize": 7, "tickColor": "#a0a0a0", "tickWidth": 1.5, "domainColor": "#a0a0a0", "domainWidth": 1.5, "grid": false}},
       "y": {"field": "v", "type": "quantitative", "axis": {"values": [0,500,1000,1500,2000,2500,3000,3500,4000], "format": "d", "title": "Breeding female population", "titleFont": "Liberation Serif", "titleFontSize": 20, "titleFontWeight": "normal", "titleColor": "#000", "titlePadding": 11, "labelFont": "Liberation Serif", "labelFontSize": 20, "labelColor": "#000", "labelOverlap": false, "labelPadding": 10, "tickSize": 7, "tickColor": "#a0a0a0", "tickWidth": 1.5, "domainColor": "#a0a0a0", "domainWidth": 1.5, "grid": false}},
       "shape": {"field": "s", "type": "nominal", "legend": null}, "fill": {"field": "s", "type": "nominal", "legend": null}, "size": {"field": "s", "type": "nominal", "legend": null}}},
    {"transform": [{"filter": "datum.p == 'R' && datum.s == 'obs' && datum.yr == 1984"}], "mark": {"type": "text", "text": "Razorbill", "font": "Liberation Serif", "fontSize": 24, "align": "left", "baseline": "alphabetic", "color": "#000"},
     "encoding": {
       "x": {"datum": 1983.45, "type": "quantitative", "axis": {"values": [1983,1984,1985,1986,1987,1988,1989,1990,1991,1992,1993,1994,1995,1996,1997,1998,1999,2000,2001,2002,2003,2004,2005,2006,2007,2008,2009], "format": "d", "labelAngle": 270, "title": null, "labelFont": "Liberation Serif", "labelFontSize": 20, "labelColor": "#000", "labelOverlap": false, "labelFlush": false, "labelPadding": 5, "tickSize": 7, "tickColor": "#a0a0a0", "tickWidth": 1.5, "domainColor": "#a0a0a0", "domainWidth": 1.5, "grid": false}},
       "y": {"datum": 3588, "type": "quantitative", "axis": {"values": [0,500,1000,1500,2000,2500,3000,3500,4000], "format": "d", "title": "Breeding female population", "titleFont": "Liberation Serif", "titleFontSize": 20, "titleFontWeight": "normal", "titleColor": "#000", "titlePadding": 11, "labelFont": "Liberation Serif", "labelFontSize": 20, "labelColor": "#000", "labelOverlap": false, "labelPadding": 10, "tickSize": 7, "tickColor": "#a0a0a0", "tickWidth": 1.5, "domainColor": "#a0a0a0", "domainWidth": 1.5, "grid": false}}}}
  ]
}
]
}
